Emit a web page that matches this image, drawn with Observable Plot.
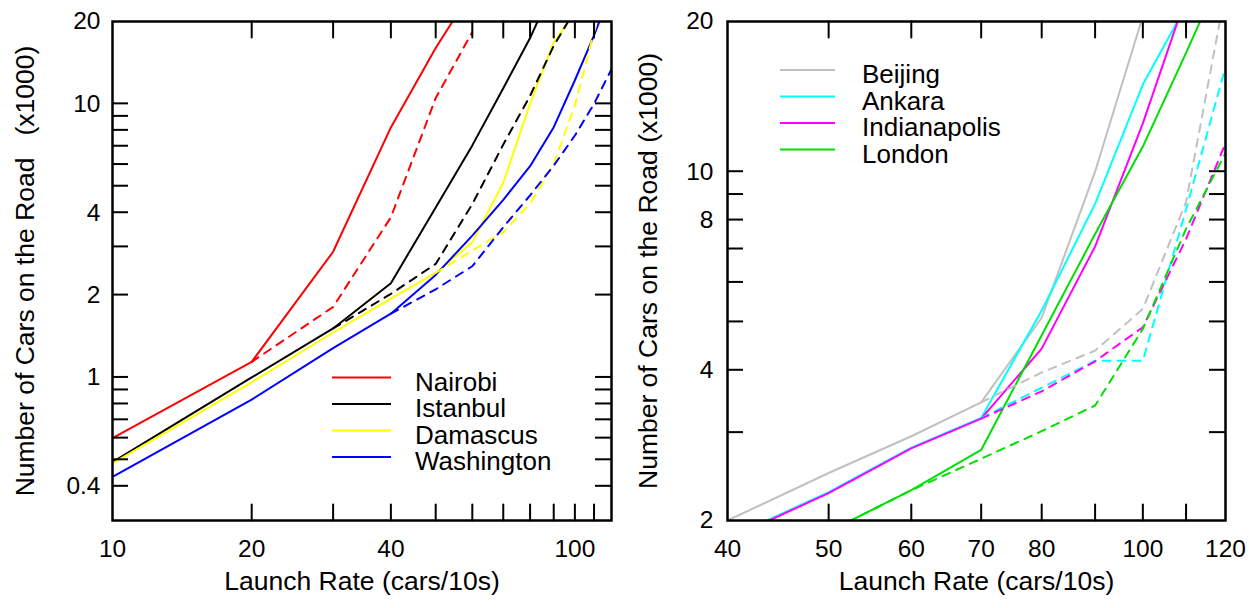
<!DOCTYPE html>
<html>
<head>
<meta charset="utf-8">
<script src="https://cdn.jsdelivr.net/npm/d3@7"></script>
<script src="https://cdn.jsdelivr.net/npm/@observablehq/plot@0.6"></script>
<style>
  body { margin: 0; background: #fff; position: relative; }
  #wrap { display: flex; width: 1260px; height: 608px; }
  #wrap svg { font-family: "Liberation Sans", Arial, Helvetica, sans-serif; flex: none; }
  #ticks { position: absolute; left: 0; top: 0; pointer-events: none; }
</style>
</head>
<body>
<div id="wrap"></div>
<svg id="ticks" width="1260" height="608" viewBox="0 0 1260 608"></svg>
<script>
// ---------------- Left panel data ----------------
const leftCities = ["Nairobi", "Istanbul", "Damascus", "Washington"];
const leftColors = ["#ff0000", "#000000", "#ffff00", "#0000ff"];

const nairobiRate = [10, 20, 30, 40, 50, 60];
const nairobiCars = [0.6, 1.14, 2.88, 8.2, 16, 26];
const nairobiDashRate = [20, 30, 40, 50, 60];
const nairobiDashCars = [1.14, 1.81, 3.85, 10.5, 18.3];

const istanbulRate = [10, 20, 30, 40, 50, 60, 70, 80, 90];
const istanbulCars = [0.49, 1.0, 1.51, 2.21, 4.18, 7.05, 11.4, 17.4, 27];
const istanbulDashRate = [30, 40, 50, 60, 70, 80, 90, 100];
const istanbulDashCars = [1.51, 2.02, 2.6, 4.3, 7.1, 10.7, 16.3, 22];

const damascusRate = [10, 20, 30, 40, 50, 60, 70, 80, 90, 100];
const damascusCars = [0.485, 0.96, 1.46, 1.94, 2.41, 3.12, 5.15, 10, 16.8, 21.5];
const damascusDashRate = [50, 60, 70, 80, 90, 100, 110, 120];
const damascusDashCars = [2.41, 2.91, 3.4, 4.32, 6.04, 9.87, 18.3, 30];

const washingtonRate = [10, 20, 30, 40, 50, 60, 70, 80, 90, 100, 110, 120];
const washingtonCars = [0.433, 0.83, 1.28, 1.71, 2.37, 3.3, 4.46, 5.92, 8.22, 12.2, 17.8, 26];
const washingtonDashRate = [40, 50, 60, 70, 80, 90, 100, 110, 120];
const washingtonDashCars = [1.71, 2.1, 2.55, 3.54, 4.63, 5.95, 7.66, 10.0, 13.4];

const leftXTicks = [20, 30, 40, 50, 60, 70, 80, 90, 100, 110];
const leftXLabels = [10, 20, 40, 80, 100];
const leftYTicks = [0.4, 0.5, 0.6, 0.7, 0.8, 0.9, 1, 2, 3, 4, 5, 6, 7, 8, 9, 10];
const leftYLabels = [0.4, 0.8, 1, 2, 4, 8, 10, 20];

// ---------------- Right panel data ----------------
const rightCities = ["Beijing", "Ankara", "Indianapolis", "London"];
const rightColors = ["#c0c0c0", "#00ffff", "#ff00ff", "#00e000"];

const beijingRate = [40, 50, 60, 70, 80, 90, 100];
const beijingCars = [2.0, 2.49, 2.95, 3.45, 5.1, 10.0, 20.5];
const beijingDashRate = [70, 80, 90, 100, 110, 120];
const beijingDashCars = [3.45, 3.96, 4.38, 5.31, 8.7, 23];

const ankaraRate = [40, 50, 60, 70, 80, 90, 100, 110];
const ankaraCars = [1.84, 2.28, 2.8, 3.21, 5.27, 8.62, 14.95, 21.5];
const ankaraDashRate = [70, 80, 90, 100, 110, 120];
const ankaraDashCars = [3.21, 3.69, 4.18, 4.18, 8.4, 16.2];

const indyRate = [40, 50, 60, 70, 80, 90, 100, 110];
const indyCars = [1.83, 2.27, 2.79, 3.2, 4.42, 7.08, 12.5, 22.4];
const indyDashRate = [70, 80, 90, 100, 110, 120];
const indyDashCars = [3.2, 3.63, 4.17, 4.88, 7.33, 11.4];

const londonRate = [40, 50, 60, 70, 80, 90, 100, 110, 120];
const londonCars = [1.5, 1.9, 2.3, 2.77, 4.7, 7.5, 11.23, 17.3, 26];
const londonDashRate = [40, 50, 60, 70, 80, 90, 100, 110, 120];
const londonDashCars = [1.5, 1.9, 2.3, 2.66, 3.02, 3.4, 4.84, 7.68, 10.9];

const rightXTicks = [50, 60, 70, 80, 90, 100, 110];
const rightXLabels = [40, 50, 60, 70, 80, 90, 100, 120];
const rightYTicks = [3, 4, 5, 6, 7, 8, 9, 10];
const rightYLabels = [2, 4, 8, 10, 20];

const xTitle = "Launch Rate (cars/10s)";
const yTitleLeft = "Number of Cars on the Road\u00A0\u00A0 (x1000)";
const yTitleRight = "Number of Cars on the Road (x1000)";

// ---------------- helpers ----------------
const zip = (xs, ys) => xs.map((x, i) => ({rate: x, cars: ys[i]}));

function lineMarks(series) {
  const solids = series.map(s => Plot.line(zip(s.rate, s.cars), {
    x: "rate", y: "cars", stroke: s.color, strokeWidth: 2, clip: true
  }));
  const dashes = series.map(s => Plot.line(zip(s.dRate, s.dCars), {
    x: "rate", y: "cars", stroke: s.color, strokeWidth: 2, strokeDasharray: "8,7", clip: true
  }));
  return [...solids, ...dashes];
}

// x ticks as short two-point line segments (same path as the data lines):
// from each frame edge inward by 16px of the (log) y range
function xTickMarks(xTicks, yDomain, frameH) {
  const [lo, hi] = yDomain;
  const k = 16 / frameH;
  const innerBottom = lo * Math.pow(hi / lo, k);
  const innerTop = hi / Math.pow(hi / lo, k);
  const rows = [];
  xTicks.forEach((v, i) => {
    rows.push({id: "b" + i, rate: v, cars: lo}, {id: "b" + i, rate: v, cars: innerBottom});
    rows.push({id: "t" + i, rate: v, cars: hi}, {id: "t" + i, rate: v, cars: innerTop});
  });
  return Plot.line(rows, {x: "rate", y: "cars", z: "id", stroke: "#000", strokeWidth: 2});
}

function labelMarks(xLabels, yLabels, tickPadY) {
  return [
    Plot.axisX(xLabels, {anchor: "bottom", tickSize: 0, tickPadding: 19, fontSize: 24.5,
      tickFormat: d => String(d), label: null, fill: "#000"}),
    Plot.axisY(yLabels, {anchor: "left", tickSize: 0, tickPadding: tickPadY, fontSize: 24.5,
      tickFormat: d => String(d), label: null, fill: "#000"})
  ];
}

function titleMarks(yTitle, dxY) {
  return [
    Plot.text([xTitle], {text: d => d, frameAnchor: "bottom", dy: 69, fontSize: 26.5, fill: "#000"}),
    Plot.text([yTitle], {text: d => d, frameAnchor: "left", textAnchor: "middle", rotate: -90, dx: dxY,
      lineAnchor: "bottom", fontSize: 26.5, fill: "#000"})
  ];
}

// y ticks (16px, inward, both sides) drawn on a page overlay through the plot's own y scale
function addYTicks(plot, offsetX, yTicks, m, W) {
  const sy = plot.scale("y");
  const fy = d3.scaleLog(sy.domain, sy.range);
  const py = v => { const a = sy.apply(v); return Number.isFinite(+a) ? +a : fy(v); };
  const L = 16, T = 2;
  const g = d3.select("#ticks").append("g")
    .attr("transform", `translate(${offsetX},0)`).attr("fill", "#000");
  yTicks.forEach(v => {
    const y = py(v) - T / 2;
    g.append("rect").attr("x", m.l).attr("y", y).attr("width", L).attr("height", T);
    g.append("rect").attr("x", W - m.r - L).attr("y", y).attr("width", L).attr("height", T);
  });
}

function addLegend(svg, names, colors, x1, x2, tx, y0) {
  const g = d3.select(svg).append("g");
  names.forEach((n, i) => {
    const y = y0 + i * 26.5;
    g.append("line").attr("x1", x1).attr("x2", x2).attr("y1", y).attr("y2", y)
      .attr("stroke", colors[i]).attr("stroke-width", 2);
    g.append("text").attr("x", tx).attr("y", y + 13).attr("font-size", 26)
      .attr("text-anchor", "start").attr("fill", "#000").text(n);
  });
}

// ---------------- Left plot ----------------
const leftSeries = [
  {color: leftColors[0], rate: nairobiRate, cars: nairobiCars, dRate: nairobiDashRate, dCars: nairobiDashCars},
  {color: leftColors[1], rate: istanbulRate, cars: istanbulCars, dRate: istanbulDashRate, dCars: istanbulDashCars},
  {color: leftColors[2], rate: damascusRate, cars: damascusCars, dRate: damascusDashRate, dCars: damascusDashCars},
  {color: leftColors[3], rate: washingtonRate, cars: washingtonCars, dRate: washingtonDashRate, dCars: washingtonDashCars}
];

const W = 630, H = 608;
const LM = {l: 112, r: 19, t: 21, b: 88};
const leftYDomain = [0.3, 20];
const leftPlot = Plot.plot({
  width: W, height: H,
  marginLeft: LM.l, marginRight: LM.r, marginTop: LM.t, marginBottom: LM.b,
  style: {background: "#fff", color: "#000"},
  x: {type: "log", domain: [10, 120], label: null},
  y: {type: "log", domain: leftYDomain, label: null},
  marks: [
    ...lineMarks(leftSeries),
    xTickMarks(leftXTicks, leftYDomain, H - LM.t - LM.b),
    ...labelMarks(leftXLabels, leftYLabels, 12),
    Plot.frame({stroke: "#000", strokeWidth: 2.5}),
    ...titleMarks(yTitleLeft, -78.5)
  ]
});
addLegend(leftPlot, leftCities, leftColors, 332, 391, 415, 377.5);

// ---------------- Right plot ----------------
const rightSeries = [
  {color: rightColors[0], rate: beijingRate, cars: beijingCars, dRate: beijingDashRate, dCars: beijingDashCars},
  {color: rightColors[1], rate: ankaraRate, cars: ankaraCars, dRate: ankaraDashRate, dCars: ankaraDashCars},
  {color: rightColors[2], rate: indyRate, cars: indyCars, dRate: indyDashRate, dCars: indyDashCars},
  {color: rightColors[3], rate: londonRate, cars: londonCars, dRate: londonDashRate, dCars: londonDashCars}
];

const RM = {l: 97, r: 35, t: 21, b: 88};
const rightYDomain = [2, 20];
const rightPlot = Plot.plot({
  width: W, height: H,
  marginLeft: RM.l, marginRight: RM.r, marginTop: RM.t, marginBottom: RM.b,
  style: {background: "#fff", color: "#000"},
  x: {type: "log", domain: [40, 120], label: null},
  y: {type: "log", domain: rightYDomain, label: null},
  marks: [
    ...lineMarks(rightSeries),
    xTickMarks(rightXTicks, rightYDomain, H - RM.t - RM.b),
    ...labelMarks(rightXLabels, rightYLabels, 14),
    Plot.frame({stroke: "#000", strokeWidth: 2.5}),
    ...titleMarks(yTitleRight, -71)
  ]
});
addLegend(rightPlot, rightCities, rightColors, 150, 205, 232, 70);

document.getElementById("wrap").append(leftPlot, rightPlot);
addYTicks(leftPlot, 0, leftYTicks, LM, W);
addYTicks(rightPlot, W, rightYTicks, RM, W);
</script>
</body>
</html>
